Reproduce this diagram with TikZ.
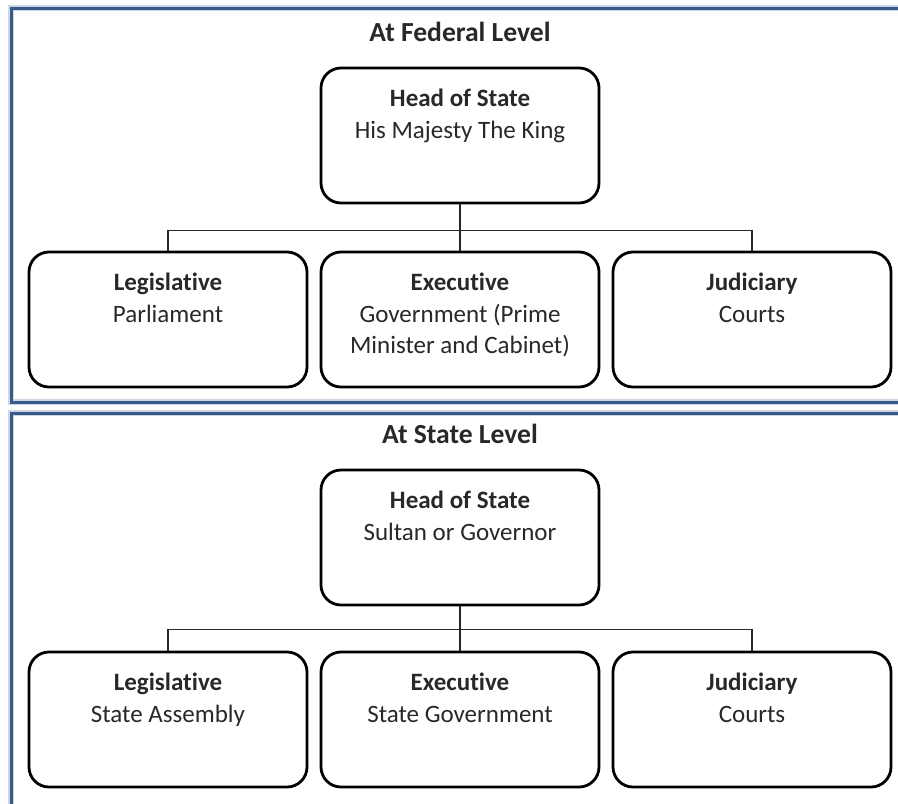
\documentclass[tikz,border=0pt]{standalone}
\usepackage{fontspec}
\setmainfont{Carlito}[Ligatures=NoCommon]
\definecolor{frameblue}{RGB}{55,90,138}
\definecolor{bodytext}{RGB}{40,40,40}

% bold heading over the body lines, first line at the top of the box
\newcommand{\orgtext}[2]{\begin{tabular}[t]{@{}c@{}}\textbf{#1}\\#2\end{tabular}}

\begin{document}
\begin{tikzpicture}[
  node distance=146pt,
  font=\fontsize{12.5}{15.75}\selectfont,
  orgbox/.style={
    rectangle,
    draw,
    line width=1.4pt,
    rounded corners=10pt,
    minimum width=139pt,
    inner sep=0pt,
    text=bodytext,
    text height=19.4pt,
    text depth=48.1pt},
  leveltitle/.style={font=\fontsize{13.8}{16}\selectfont\bfseries, text=bodytext},
  link/.style={line width=0.9pt, draw=black!85},
  levelframe/.style={draw=frameblue, line width=1.5pt,
    preaction={draw=frameblue!25, line width=2.8pt}},
  ]
  \useasboundingbox (0,0) rectangle (449pt,-401.5pt);

  % the two frames
  \draw[levelframe] (5.5pt,-4pt) rectangle (480pt,-201pt);
  \draw[levelframe] (5.5pt,-206.5pt) rectangle (480pt,-430pt);

  % federal level
  \node[orgbox] (fhead) at (230pt,-67.75pt)
    {\orgtext{Head of State}{His Majesty The King}};
  \node[leveltitle, above of=fhead, yshift=-94.25pt] (ftitle) {At Federal Level};

  \node[orgbox, below of=fhead, yshift=54pt] (fexec)
    {\orgtext{Executive}{Government (Prime\\Minister and Cabinet)}};
  \node[orgbox, left of=fexec] (flegis) {\orgtext{Legislative}{Parliament}};
  \node[orgbox, right of=fexec] (fjud) {\orgtext{Judiciary}{Courts}};

  % state level
  \node[orgbox, below of=fexec, yshift=37pt] (shead)
    {\orgtext{Head of State}{Sultan or Governor}};
  \node[leveltitle, above of=shead, yshift=-94.25pt] (stitle) {At State Level};

  \node[orgbox, below of=shead, yshift=55pt] (sexec)
    {\orgtext{Executive}{State Government}};
  \node[orgbox, left of=sexec] (slegis) {\orgtext{Legislative}{State Assembly}};
  \node[orgbox, right of=sexec] (sjud) {\orgtext{Judiciary}{Courts}};

  \draw[link] (fhead) -- (fexec);
  \draw[link] (fhead.south) -- ++(0,-13pt) -| (flegis.north);
  \draw[link] (fhead.south) -- ++(0,-13pt) -| (fjud.north);

  \draw[link] (shead) -- (sexec);
  \draw[link] (shead.south) -- ++(0,-11.5pt) -| (slegis.north);
  \draw[link] (shead.south) -- ++(0,-11.5pt) -| (sjud.north);
\end{tikzpicture}
\end{document}
